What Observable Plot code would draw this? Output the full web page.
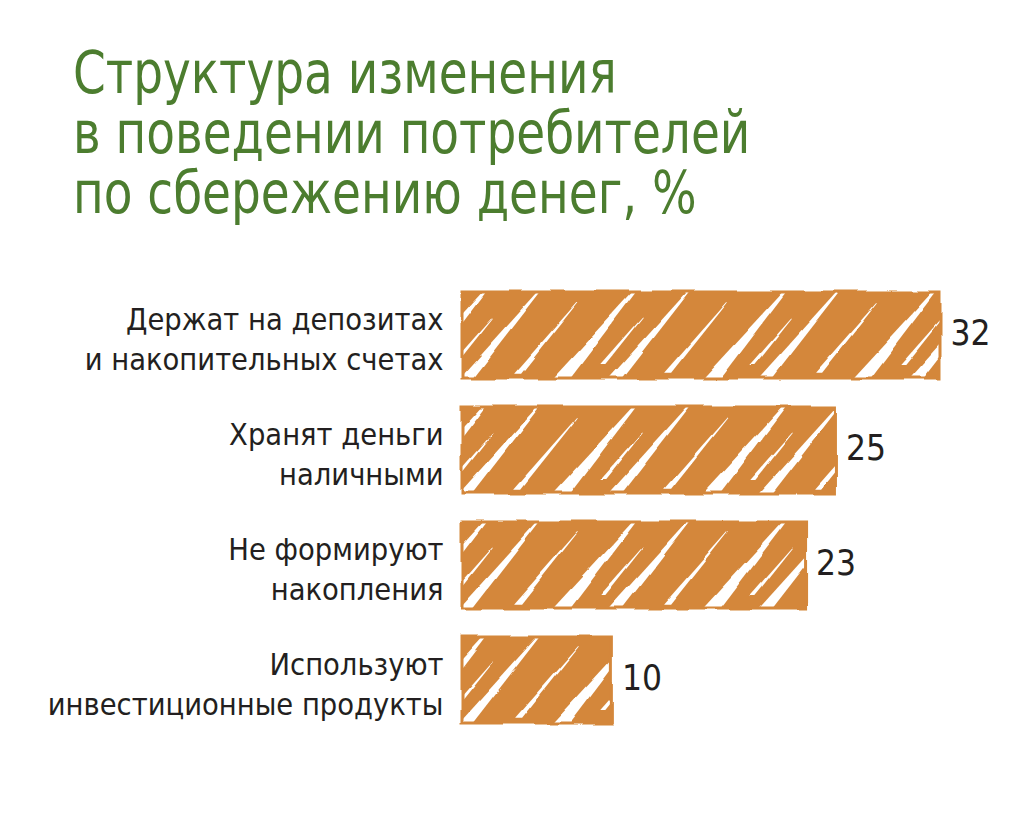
<!DOCTYPE html>
<html><head><meta charset="utf-8">
<script src="https://cdn.jsdelivr.net/npm/d3@7"></script>
<script src="https://cdn.jsdelivr.net/npm/@observablehq/plot@0.6"></script>
<style>
body{margin:0;background:#fff;}
#title{font-family:"Liberation Sans Narrow","DejaVu Sans Condensed",sans-serif;color:#4c7d2f;font-size:58px;line-height:60px;padding:43px 0 0 73px;height:250px;box-sizing:border-box;}
#title span{display:inline-block;transform:scaleX(0.9);transform-origin:0 50%;white-space:nowrap;}
#chart svg{display:block;}
</style></head><body>
<div id="title"><span>Структура изменения<br>в поведении потребителей<br>по сбережению денег, %</span></div>
<div id="chart"></div>
<script>
const categories = [
  "Держат на депозитах\nи накопительных счетах",
  "Хранят деньги\nналичными",
  "Не формируют\nнакопления",
  "Используют\nинвестиционные продукты"
];
const values = [32, 25, 23, 10];
const valueLabels = ["32", "25", "23", "10"];

const data = categories.map((c, i) => ({cat: c, value: values[i], label: valueLabels[i]}));
const orange = "#d4873b";
const font = '"Liberation Sans Narrow","DejaVu Sans Condensed",sans-serif';

const svg = Plot.plot({
  width: 1034,
  height: 575,
  marginTop: 13,
  marginBottom: 73,
  marginLeft: 462,
  marginRight: 94,
  style: {fontFamily: font, background: "#fff"},
  x: {domain: [0, 32], axis: null},
  y: {domain: categories, axis: null, padding: 0.25},
  marks: [
    Plot.barX(data, {x: "value", y: "cat", fill: "url(#hatch)", stroke: orange, strokeWidth: 3}),
    Plot.text(data, {x: 0, y: "cat", text: "cat", textAnchor: "end", dx: -19, dy: 2, fontSize: 30.5, lineHeight: 1.3, fill: "#231f20"}),
    Plot.text(data, {x: "value", y: "cat", text: "label", textAnchor: "start", dx: 10, dy: -2, fontSize: 35, fill: "#231f20"})
  ]
});

// hand-drawn hatch: pattern tile aligned with the y bands
const ys = svg.scale("y");
const xs = svg.scale("x");
const y0 = ys.apply(categories[0]);
const bw = ys.bandwidth;
const step = ys.step || (ys.apply(categories[1]) - y0);
const x0 = xs.apply(0);
const TW = 150;
const slant = bw / Math.tan(50 * Math.PI / 180);
// [bottom x, bottom width, top width, bottom y frac, top y frac]
const strokes = [
  [4, 14, 2, 1.05, -0.05],
  [52, 7, 1, 0.95, 0.12],
  [100, 18, 3, 1.05, -0.05],
  [130, 5, 1, 0.85, 0.3]
];
let polys = "";
for (const off of [-TW, 0, TW]) {
  for (const [xb, wb, wt, fb, ft] of strokes) {
    const yb = bw * fb, yt = bw * ft;
    const xbb = xb + off + slant * (1 - fb);
    const xtt = xb + off + slant * (1 - ft);
    polys += `<polygon fill="#fff" points="${xbb - wb/2},${yb} ${xbb + wb/2},${yb} ${xtt + wt/2},${yt} ${xtt - wt/2},${yt}"/>`;
  }
}
const defs = document.createElementNS("http://www.w3.org/2000/svg", "defs");
defs.innerHTML = `
<pattern id="hatch" patternUnits="userSpaceOnUse" x="${x0}" y="${y0}" width="${TW}" height="${step}">
  <rect width="${TW}" height="${step}" fill="${orange}"/>
  ${polys}
</pattern>
<filter id="rough" x="-3%" y="-10%" width="106%" height="120%">
  <feTurbulence type="fractalNoise" baseFrequency="0.03" numOctaves="1" seed="4"/>
  <feDisplacementMap in="SourceGraphic" scale="6" xChannelSelector="R" yChannelSelector="G"/>
</filter>`;
svg.prepend(defs);
const barG = svg.querySelector('g[aria-label="bar"]');
if (barG) barG.setAttribute("filter", "url(#rough)");
document.getElementById("chart").appendChild(svg);
</script>
</body></html>
